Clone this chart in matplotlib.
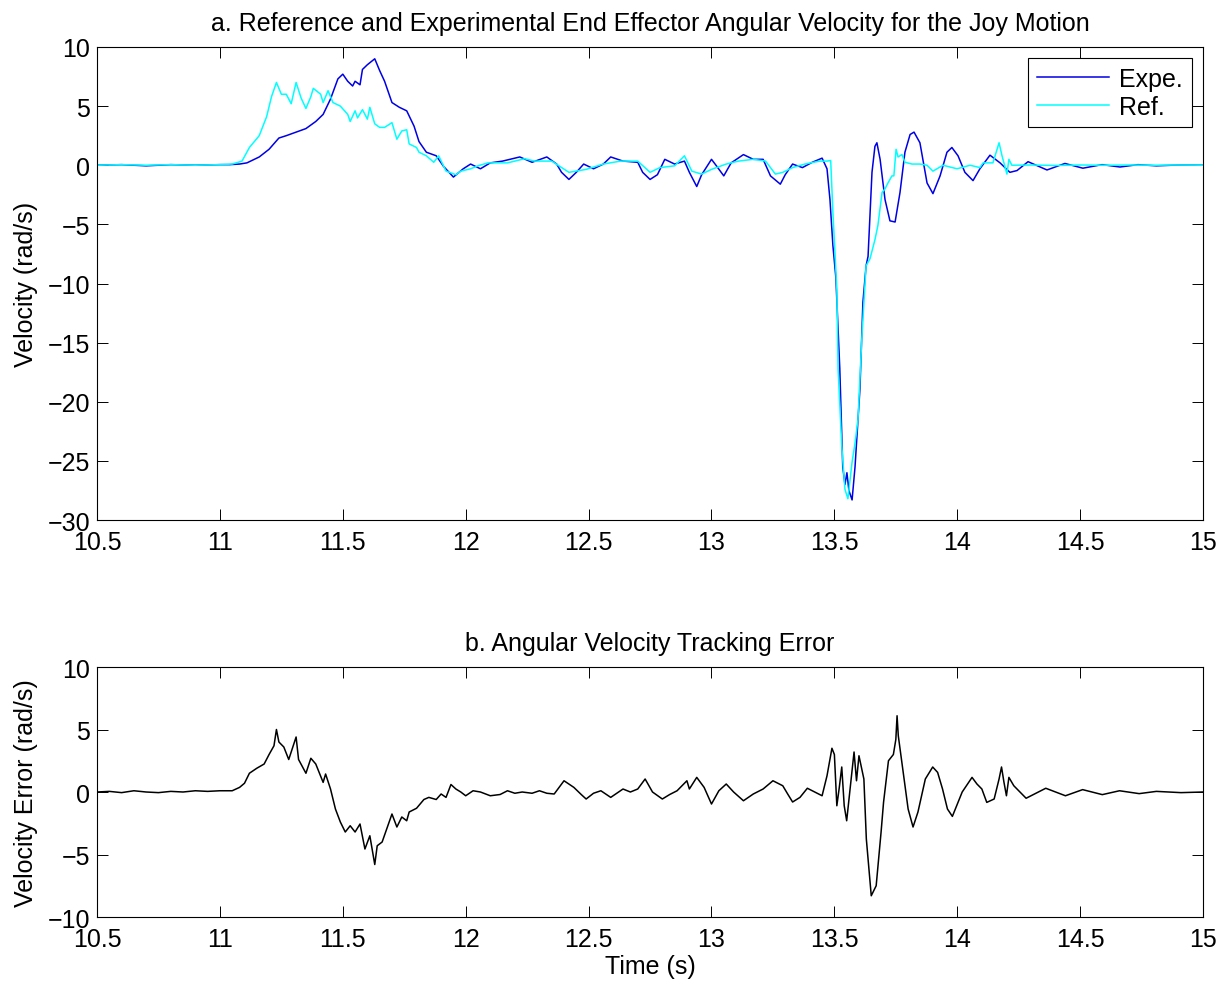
import matplotlib
matplotlib.use('Agg')
import matplotlib.pyplot as plt

exp_t = [10.50, 10.60, 10.70, 10.80, 10.90, 11.00, 11.04, 11.08, 11.11, 11.16,
         11.20, 11.24, 11.27, 11.31, 11.35, 11.39, 11.42, 11.45, 11.48, 11.50,
         11.52, 11.54, 11.55, 11.57, 11.58, 11.60, 11.63, 11.65, 11.67, 11.70,
         11.73, 11.76, 11.79, 11.81, 11.84, 11.88, 11.91, 11.95, 11.99, 12.02,
         12.06, 12.10, 12.15, 12.22, 12.27, 12.33, 12.37, 12.39, 12.42, 12.45,
         12.48, 12.52, 12.56, 12.59, 12.64, 12.70, 12.72, 12.75, 12.78, 12.81,
         12.85, 12.89, 12.91, 12.94, 12.96, 13.00, 13.02, 13.05, 13.08, 13.13,
         13.17, 13.21, 13.24, 13.28, 13.30, 13.33, 13.37, 13.41, 13.45, 13.47,
         13.482, 13.494, 13.506, 13.522, 13.530, 13.534, 13.543, 13.551, 13.559, 13.572,
         13.584, 13.596, 13.604, 13.616, 13.629, 13.637, 13.653, 13.665, 13.673, 13.686,
         13.706, 13.726, 13.747, 13.767, 13.787, 13.808, 13.824, 13.848, 13.877, 13.901,
         13.930, 13.958, 13.978, 14.003, 14.031, 14.064, 14.092, 14.133, 14.174, 14.214,
         14.243, 14.288, 14.365, 14.438, 14.511, 14.589, 14.662, 14.735, 14.81, 14.90, 15.00]
exp_v = [0.0, 0.05, -0.05, 0.05, 0.0, 0.05, 0.05, 0.1, 0.2, 0.7,
         1.35, 2.3, 2.5, 2.8, 3.1, 3.7, 4.3, 5.6, 7.3, 7.7,
         7.1, 6.7, 7.1, 6.8, 8.1, 8.5, 9.0, 8.0, 7.1, 5.3,
         4.9, 4.6, 3.3, 2.0, 1.1, 0.8, -0.1, -1.0, -0.3, 0.1,
         -0.3, 0.2, 0.35, 0.7, 0.25, 0.7, 0.1, -0.6, -1.2, -0.6,
         0.1, -0.3, 0.1, 0.7, 0.35, 0.25, -0.6, -1.2, -0.8, 0.5,
         0.1, 0.35, -0.6, -1.8, -0.8, 0.5, -0.05, -0.9, 0.2, 0.9,
         0.5, 0.5, -0.9, -1.6, -0.8, 0.1, -0.2, 0.25, 0.6, -0.3,
         -2.9, -6.8, -9.5, -17.2, -22.9, -25.5, -27.0, -26.0, -27.5, -28.3,
         -25.5, -21.5, -18.9, -11.6, -8.5, -7.7, -0.6, 1.6, 1.9, 0.5,
         -2.9, -4.7, -4.8, -2.3, 1.1, 2.6, 2.8, 1.9, -1.5, -2.4,
         -0.9, 1.1, 1.5, 0.8, -0.6, -1.3, -0.3, 0.85, 0.2, -0.6,
         -0.45, 0.3, -0.4, 0.15, -0.25, 0.05, -0.15, 0.05, -0.05, 0.02, 0.0]

# Ref. angular velocity
ref_t = [10.50, 10.60, 10.70, 10.80, 10.90, 11.00, 11.05, 11.09, 11.12, 11.16,
         11.19, 11.21, 11.23, 11.25, 11.27, 11.29, 11.31, 11.33, 11.35, 11.37,
         11.38, 11.41, 11.42, 11.44, 11.46, 11.49, 11.52, 11.53, 11.55, 11.56,
         11.58, 11.60, 11.61, 11.63, 11.65, 11.67, 11.70, 11.72, 11.74, 11.76,
         11.77, 11.80, 11.81, 11.84, 11.87, 11.89, 11.92, 11.96, 11.98, 12.02,
         12.05, 12.09, 12.17, 12.24, 12.28, 12.35, 12.42, 12.49, 12.56, 12.63,
         12.70, 12.75, 12.79, 12.85, 12.89, 12.92, 12.96, 13.00, 13.06, 13.11,
         13.17, 13.22, 13.26, 13.29, 13.33, 13.38, 13.44, 13.47, 13.485, 13.494,
         13.510, 13.515, 13.530, 13.543, 13.555, 13.572, 13.584, 13.596, 13.612, 13.629,
         13.645, 13.665, 13.677, 13.694, 13.706, 13.718, 13.734, 13.742, 13.751, 13.759,
         13.775, 13.787, 13.816, 13.848, 13.877, 13.901, 13.942, 13.999, 14.052, 14.092,
         14.105, 14.145, 14.170, 14.182, 14.202, 14.210, 14.222, 14.30, 14.40, 14.50,
         14.60, 14.70, 14.80, 14.90, 15.00]
ref_v = [0.0, 0.05, 0.0, 0.05, 0.0, 0.05, 0.1, 0.35, 1.5, 2.5,
         4.1, 5.8, 7.0, 6.0, 6.0, 5.2, 7.0, 5.7, 4.8, 5.8,
         6.5, 6.0, 5.3, 6.3, 5.3, 5.0, 4.3, 3.7, 4.6, 4.0,
         4.7, 3.9, 4.9, 3.5, 3.2, 3.2, 3.6, 2.2, 2.9, 3.0,
         1.8, 1.5, 1.1, 0.8, 0.25, 0.8, -0.5, -0.8, -0.5, -0.3,
         -0.05, 0.2, 0.2, 0.55, 0.35, 0.35, -0.6, -0.35, 0.1, 0.35,
         0.35, -0.6, -0.2, -0.05, 0.8, -0.5, -0.75, -0.35, 0.1, 0.35,
         0.5, 0.35, -0.75, -0.6, -0.2, 0.1, 0.35, 0.35, 0.4, -4.0,
         -10.5, -17.2, -23.7, -27.4, -28.2, -25.1, -23.5, -21.5, -14.5, -8.5,
         -7.9, -6.3, -5.1, -2.3, -2.0, -1.5, -0.9, -0.9, 1.35, 0.7,
         0.9, 0.25, 0.1, 0.1, 0.0, -0.5, 0.0, -0.3, 0.0, -0.2,
         0.2, 0.2, 1.9, 0.8, -0.75, 0.5, 0.0, 0.02, -0.02, 0.02,
         0.0, 0.02, 0.0, 0.02, 0.0]

# tracking error
err_t = [10.50, 10.55, 10.60, 10.65, 10.70, 10.75, 10.80, 10.85, 10.90, 10.95,
         11.00, 11.05, 11.08, 11.10, 11.12, 11.15, 11.18, 11.20, 11.22, 11.23,
         11.24, 11.26, 11.28, 11.31, 11.32, 11.35, 11.37, 11.39, 11.42, 11.43,
         11.45, 11.47, 11.49, 11.51, 11.53, 11.55, 11.57, 11.59, 11.61, 11.63,
         11.64, 11.66, 11.70, 11.72, 11.74, 11.76, 11.77, 11.80, 11.83, 11.85,
         11.88, 11.90, 11.92, 11.94, 11.96, 11.98, 12.00, 12.03, 12.06, 12.10,
         12.14, 12.17, 12.20, 12.23, 12.27, 12.30, 12.33, 12.36, 12.40, 12.44,
         12.47, 12.49, 12.52, 12.55, 12.59, 12.64, 12.67, 12.70, 12.73, 12.76,
         12.80, 12.83, 12.86, 12.90, 12.91, 12.94, 12.97, 13.00, 13.03, 13.06,
         13.09, 13.13, 13.17, 13.21, 13.25, 13.29, 13.31, 13.33, 13.36, 13.39,
         13.42, 13.45, 13.47, 13.49, 13.50, 13.51, 13.52, 13.53, 13.54, 13.55,
         13.58, 13.59, 13.60, 13.62, 13.63, 13.65, 13.67, 13.69, 13.70, 13.72,
         13.74, 13.75, 13.755, 13.76, 13.78, 13.80, 13.82, 13.84, 13.87, 13.90,
         13.92, 13.94, 13.96, 13.98, 14.02, 14.06, 14.08, 14.10, 14.12, 14.15,
         14.17, 14.18, 14.19, 14.20, 14.21, 14.23, 14.28, 14.36, 14.44, 14.51,
         14.59, 14.66, 14.74, 14.81, 14.91, 15.00]
err_v = [0.0, 0.05, -0.05, 0.1, 0.0, -0.05, 0.05, 0.0, 0.1, 0.05,
         0.1, 0.1, 0.37, 0.7, 1.5, 1.9, 2.24, 3.0, 3.7, 5.0,
         4.0, 3.6, 2.6, 4.4, 2.6, 1.5, 2.7, 2.24, 0.77, 1.44,
         0.24, -1.36, -2.4, -3.2, -2.7, -3.2, -2.56, -4.56, -3.5, -5.8,
         -4.3, -4.0, -1.76, -2.8, -2.0, -2.3, -1.6, -1.3, -0.6, -0.43,
         -0.6, -0.16, -0.43, 0.6, 0.24, 0.0, -0.3, 0.1, 0.0, -0.3,
         -0.2, 0.1, -0.1, 0.0, -0.1, 0.1, -0.1, -0.16, 0.9, 0.37,
         -0.2, -0.56, -0.1, 0.1, -0.43, 0.24, 0.0, 0.24, 1.04, 0.0,
         -0.56, -0.2, 0.1, 0.9, 0.24, 1.17, 0.37, -0.96, 0.1, 0.64,
         0.0, -0.7, -0.16, 0.24, 0.9, 0.5, -0.16, -0.8, -0.43, 0.3,
         0.0, -0.3, 1.3, 3.5, 3.0, -1.1, 0.37, 2.0, -1.1, -2.3,
         3.2, 0.9, 2.9, 1.04, -3.76, -8.3, -7.5, -3.2, -0.83, 2.5,
         3.0, 4.2, 6.1, 4.5, 1.57, -1.36, -2.8, -1.6, 1.04, 2.0,
         1.57, 0.24, -1.36, -1.95, 0.0, 1.17, 0.64, 0.24, -0.83, -0.56,
         1.04, 2.0, 0.77, -0.3, 1.17, 0.5, -0.5, 0.3, -0.3, 0.19,
         -0.21, 0.1, -0.13, 0.05, -0.05, 0.0]

x_ticks = [10.5, 11, 11.5, 12, 12.5, 13, 13.5, 14, 14.5, 15]
top_yticks = [-30, -25, -20, -15, -10, -5, 0, 5, 10]
bot_yticks = [-10, -5, 0, 5, 10]

FONT = ['Liberation Sans', 'DejaVu Sans']
FS = 18

plt.rcParams['font.family'] = FONT
plt.rcParams['font.size'] = FS

fig = plt.figure(figsize=(12.28, 9.87), dpi=100)
ax1 = fig.add_axes([0.079, 0.4721, 0.9007, 0.4793])
ax2 = fig.add_axes([0.079, 0.0699, 0.9007, 0.2533])


def matlab_style(ax):
    ax.set_xlim(10.5, 15)
    ax.set_xticks(x_ticks)
    ax.set_xticklabels([f'{v:g}' for v in x_ticks])
    ax.tick_params(direction='in', length=8, width=0.7, top=True, right=True,
                   labelsize=FS, colors='black')
    ax.tick_params(axis='x', pad=7)
    ax.tick_params(axis='y', pad=5)
    for s in ax.spines.values():
        s.set_linewidth(0.8)
        s.set_color('black')


ax1.plot(exp_t, exp_v, color='#0000e6', linewidth=1.1, label='Expe.')
ax1.plot(ref_t, ref_v, color='#00ffff', linewidth=1.1, label='Ref.')
matlab_style(ax1)
ax1.set_ylim(-30, 10)
ax1.set_yticks(top_yticks)
ax1.set_title('a. Reference and Experimental End Effector Angular Velocity for the Joy Motion',
              fontsize=FS, pad=12)
ax1.set_ylabel('Velocity (rad/s)', fontsize=FS)
ax1.yaxis.set_label_coords(-0.053, 0.5)
leg = ax1.legend(loc='upper right', fancybox=False, framealpha=1, edgecolor='black',
                 borderaxespad=0.45, handlelength=2.9, handletextpad=0.4,
                 labelspacing=0.15, borderpad=0.35, fontsize=FS)
leg.get_frame().set_linewidth(0.8)

ax2.plot(err_t, err_v, color='black', linewidth=1.1)
matlab_style(ax2)
ax2.set_ylim(-10, 10)
ax2.set_yticks(bot_yticks)
ax2.set_title('b. Angular Velocity Tracking Error', fontsize=FS, pad=12)
ax2.set_ylabel('Velocity Error (rad/s)', fontsize=FS)
ax2.yaxis.set_label_coords(-0.053, 0.5)
ax2.set_xlabel('Time (s)', fontsize=FS, labelpad=2)

fig.savefig('out.png', dpi=100)
